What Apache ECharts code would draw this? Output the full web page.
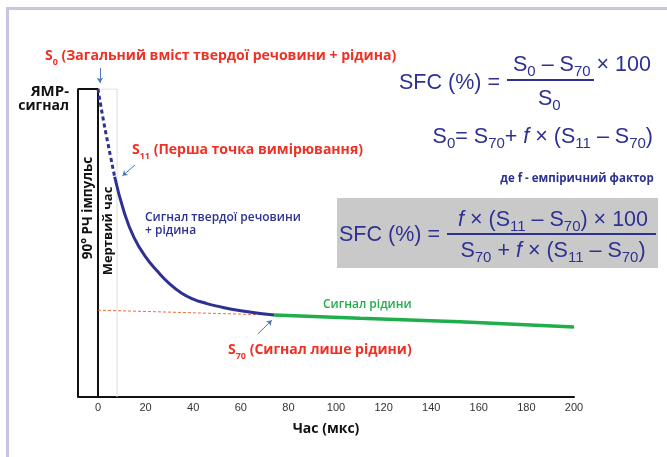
<!DOCTYPE html>
<html><head><meta charset="utf-8">
<script src="https://cdn.jsdelivr.net/npm/echarts@6/dist/echarts.min.js"></script>
<style>html,body{margin:0;padding:0;background:#fff}#c{width:667px;height:457px}</style>
</head><body><div id="c"></div>
<script>
// ---- data ----
const xTicks = [0, 20, 40, 60, 80, 100, 120, 140, 160, 180, 200];
const deadTimeT = [0, 2, 4, 7];
const deadTimeV = [100, 91, 83, 71.5];
const solidT = [7, 11, 15, 20, 25, 30, 35, 40, 45, 50, 60, 74];
const solidV = [71.5, 60, 52, 45.5, 40.8, 36.8, 33.8, 31.8, 30.5, 29.5, 28, 26.6];
const liquidT = [74, 110, 152, 200];
const liquidV = [26.6, 25.6, 24.4, 22.7];
const extrapT = [0, 74];
const extrapV = [28.2, 26.6];
const pulseX = [0, 0, -8.4, -8.4];
const pulseY = [0, 100, 100, 0];
const deadX = [0, 8, 8];
const deadY = [100, 100, 0];
const arrowFrom = [[0.8, 106.8], [15.5, 75.3], [67.2, 20.5]];
const arrowTo = [[0.8, 102.0], [10.3, 71.8], [73.0, 24.9]];

const pairs = (a, b) => a.map((v, i) => [v, b[i]]);

const NAVY = '#2e3192', RED = '#ee3124', GREEN = '#1fae4b';
const RF = '"Open Sans", Lato, sans-serif';
const AF = '"Liberation Sans", Arial, sans-serif';

const chart = echarts.init(document.getElementById('c'), null, {renderer: 'canvas'});

const redRich = {
  t: {fontFamily: RF, fontWeight: 700, fontSize: 14, fill: RED, verticalAlign: 'top', lineHeight: 18},
  s: {fontFamily: RF, fontWeight: 700, fontSize: 9, fill: RED, verticalAlign: 'top', lineHeight: 10, padding: [9, 0, 0, 0]}
};
function fRich(size) {
  return {
    m: {fontFamily: AF, fontSize: size, fill: NAVY, verticalAlign: 'top', lineHeight: size + 3},
    i: {fontFamily: AF, fontSize: size, fill: NAVY, fontStyle: 'italic', verticalAlign: 'top', lineHeight: size + 3},
    b: {fontFamily: AF, fontSize: Math.round(size * 0.68), fill: NAVY, verticalAlign: 'top', lineHeight: 12, padding: [Math.round(size * 0.5), 0, 0, 0]}
  };
}
function txt(x, y, text, rich, align) {
  return {type: 'text', x: x, y: y, style: {text: text, rich: rich, align: align || 'left', verticalAlign: 'middle'}};
}
const FS = 21.5;

const graphics = [
  {type: 'line', shape: {x1: 6, y1: 8.5, x2: 667, y2: 8.5}, style: {stroke: '#c6c6e0', lineWidth: 3}},
  {type: 'line', shape: {x1: 7.5, y1: 7, x2: 7.5, y2: 457}, style: {stroke: '#c6c6e0', lineWidth: 3}},
  // labels
  txt(45, 58, '{t|S}{s|0}{t| (Загальний вміст твердої речовини + рідина)}', redRich),
  txt(132, 152, '{t|S}{s|11}{t| (Перша точка вимірювання)}', redRich),
  txt(228, 352, '{t|S}{s|70}{t| (Сигнал лише рідини)}', redRich),
  {type: 'text', x: 69, y: 92, style: {text: 'ЯМР-', fontFamily: RF, fontWeight: 700, fontSize: 15, fill: '#111', align: 'right', verticalAlign: 'middle'}},
  {type: 'text', x: 69, y: 106, style: {text: 'сигнал', fontFamily: RF, fontWeight: 700, fontSize: 14, fill: '#111', align: 'right', verticalAlign: 'middle'}},
  {type: 'text', x: 145, y: 211, style: {text: 'Сигнал твердої речовини\n+ рідина', fontFamily: RF, fontWeight: 600, fontSize: 12, lineHeight: 13, fill: NAVY, align: 'left', verticalAlign: 'top'}},
  {type: 'text', x: 323, y: 305, style: {text: 'Сигнал рідини', fontFamily: RF, fontWeight: 600, fontSize: 12, fill: GREEN, align: 'left', verticalAlign: 'middle'}},
  {type: 'text', x: 88, y: 208, rotation: Math.PI / 2, style: {text: '90° РЧ імпульс', fontFamily: RF, fontWeight: 700, fontSize: 13.5, fill: '#111', align: 'center', verticalAlign: 'middle'}},
  {type: 'text', x: 108, y: 231, rotation: Math.PI / 2, style: {text: 'Мертвий час', fontFamily: RF, fontWeight: 700, fontSize: 13, fill: '#111', align: 'center', verticalAlign: 'middle'}},
  // formula 1
  txt(399, 84, '{m|SFC (%) =}', fRich(FS)),
  txt(513, 66, '{m|S}{b|0}{m| – S}{b|70}{m| × 100}', fRich(FS)),
  {type: 'line', shape: {x1: 507, y1: 80, x2: 594, y2: 80}, style: {stroke: NAVY, lineWidth: 2}},
  txt(538, 100, '{m|S}{b|0}', fRich(FS)),
  // formula 2
  txt(653, 138, '{m|S}{b|0}{m|= S}{b|70}{m|+ }{i|f}{m| × (S}{b|11}{m| – S}{b|70}{m|)}', fRich(FS), 'right'),
  {type: 'text', x: 577, y: 179, style: {text: 'де f - емпіричний фактор', fontFamily: RF, fontWeight: 700, fontSize: 11.5, fill: NAVY, align: 'center', verticalAlign: 'middle'}},
  // formula 3
  {type: 'rect', shape: {x: 337, y: 198, width: 321, height: 70}, style: {fill: '#c9c9c9'}},
  txt(339, 236, '{m|SFC (%) =}', fRich(FS)),
  txt(553, 221, '{i|f}{m| × (S}{b|11}{m| – S}{b|70}{m|) × 100}', fRich(FS), 'center'),
  {type: 'line', shape: {x1: 447, y1: 234, x2: 656, y2: 234}, style: {stroke: NAVY, lineWidth: 2}},
  txt(553, 252, '{m|S}{b|70}{m| + }{i|f}{m| × (S}{b|11}{m| – S}{b|70}{m|)}', fRich(FS), 'center')
];

chart.setOption({
  animation: false,
  grid: {left: 78, right: 93, top: 89, bottom: 60},
  xAxis: {
    type: 'value', min: -8.4, max: 200,
    axisLine: {lineStyle: {color: '#111', width: 2}},
    axisTick: {show: false}, splitLine: {show: false},
    axisLabel: {customValues: xTicks, color: '#333', fontSize: 11, fontFamily: AF, margin: 5},
    name: 'Час (мкс)', nameLocation: 'middle', nameGap: 25,
    nameTextStyle: {color: '#111', fontSize: 14, fontWeight: 700, fontFamily: RF}
  },
  yAxis: {type: 'value', min: 0, max: 100, show: false},
  series: [
    {type: 'line', data: pairs(deadX, deadY), symbol: 'none', lineStyle: {color: '#dcdcdc', width: 1}, silent: true},
    {type: 'line', data: pairs(pulseX, pulseY), symbol: 'none', lineStyle: {color: '#111', width: 2}, silent: true},
    {type: 'line', data: pairs(extrapT, extrapV), symbol: 'none', lineStyle: {color: '#f26a3d', width: 1, type: [3, 2]}},
    {type: 'line', data: pairs(deadTimeT, deadTimeV), symbol: 'none', smooth: true, lineStyle: {color: NAVY, width: 3, type: [4, 3]}},
    {type: 'line', data: pairs(solidT, solidV), symbol: 'none', smooth: true, lineStyle: {color: NAVY, width: 3}},
    {type: 'line', data: pairs(liquidT, liquidV), symbol: 'none', smooth: true, lineStyle: {color: GREEN, width: 3.5}},
    {type: 'lines', coordinateSystem: 'cartesian2d', clip: false, symbol: ['none', 'arrow'], symbolSize: 5,
     lineStyle: {color: '#4a78b0', width: 1, opacity: 1},
     data: arrowFrom.map((p, i) => ({coords: [p, arrowTo[i]]}))}
  ],
  graphic: graphics
});
</script>
</body></html>
